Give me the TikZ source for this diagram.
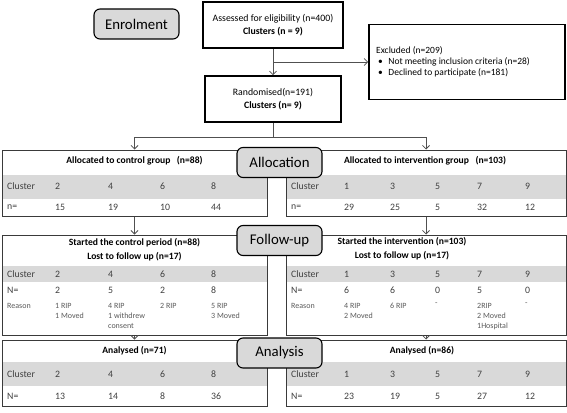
\documentclass[tikz,border=0pt]{standalone}
\usepackage{fontspec}
\setmainfont{Carlito}
\usetikzlibrary{arrows.meta,fit}
\definecolor{stagegrey}{HTML}{D9D9D9}
\definecolor{rowgrey}{HTML}{D9D9D9}
\definecolor{tblline}{HTML}{3A3A3A}
\definecolor{connc}{HTML}{505050}
\definecolor{celltext}{HTML}{404040}
\definecolor{rsntext}{HTML}{595959}
\tikzset{
  bigbox/.style={draw=black, line width=1.6pt, fill=white, inner sep=0pt, align=center, font=\fontsize{9.8}{13}\selectfont},
  stage/.style={draw=black, line width=1.1pt, fill=stagegrey, rounded corners=6pt, inner sep=0pt,
    minimum width=85pt, minimum height=30pt, font=\fontsize{14.8}{16}\selectfont},
  tbl/.style={draw=tblline, line width=1pt, inner sep=0pt},
  conn/.style={draw=connc, line width=0.8pt, -{Straight Barb[length=3.5pt,width=7pt]}},
  cell/.style={anchor=west, inner sep=0pt, text=celltext, font=\fontsize{9.8}{12}\selectfont},
  hdr/.style={inner sep=0pt, align=center, font=\bfseries\fontsize{9.6}{14}\selectfont},
  rsn/.style={anchor=north west, inner sep=0pt, align=left, text=rsntext, font=\fontsize{8}{10}\selectfont},
  exc/.style={anchor=north west, inner sep=0pt, align=left, font=\fontsize{9.5}{11}\selectfont},
}
\begin{document}
\begin{tikzpicture}[x=1pt,y=-1pt]
\useasboundingbox (0,0) rectangle (567,412);

% ---- enrolment part ----
\node[bigbox, minimum width=140pt, minimum height=46pt] (assess) at (273,25)
  {Assessed for eligibility (n=400)\\\textbf{Clusters (n = 9)}};
\node[bigbox, minimum width=136pt, minimum height=46pt] (rand) at (273,99)
  {Randomised(n=191)\\\textbf{Clusters (n= 9)}};
\node[bigbox, minimum width=196pt, minimum height=75pt] (excl) at (467,62) {};
\node[exc] (excltxt) at (376,46.5)
  {Excluded (n=209)\\
   \hspace*{2pt}•\hspace{5.5pt}Not meeting inclusion criteria (n=28)\\
   \hspace*{2pt}•\hspace{5.5pt}Declined to participate (n=181)};

% ---- grey rows ----
\fill[rowgrey] (2,175) rectangle (267,199);
\fill[rowgrey] (286,175) rectangle (566,199);
\fill[rowgrey] (2,266) rectangle (267,282);
\fill[rowgrey] (286,266) rectangle (566,282);
\fill[rowgrey] (2,362) rectangle (267,386);
\fill[rowgrey] (286,362) rectangle (566,386);

% ---- table outlines ----
\node[tbl, fit={(2,150) (267,216)}] (ctrlA) {};
\node[tbl, fit={(286,150) (566,216)}] (intvA) {};
\node[tbl, fit={(2,235) (267,335)}] (ctrlF) {};
\node[tbl, fit={(286,235) (566,335)}] (intvF) {};
\node[tbl, fit={(2,340) (267,406)}] (ctrlN) {};
\node[tbl, fit={(286,340) (566,406)}] (intvN) {};

% ---- connectors ----
\draw[conn] (assess.south) -- (rand.north);
\draw[conn] (assess.south |- excl.west) -- (excl.west);
\coordinate (split) at ([yshift=-15pt]rand.south);
\draw[draw=connc, line width=0.8pt] (rand.south) -- (split);
\draw[conn] (split) -| (ctrlA.north);
\draw[conn] (split) -| (intvA.north);
\draw[conn] (ctrlA.south) -- (ctrlF.north);
\draw[conn] (intvA.south) -- (intvF.north);
\draw[conn] (ctrlF.south) -- (ctrlN.north);
\draw[conn] (intvF.south) -- (intvN.north);

% ---- allocation tables ----
\node[hdr] (hA1) at (134.5,160.5) {Allocated to control group\ \ \ (n=88)};
\node[hdr] (hA2) at (425,160.5) {Allocated to intervention group\ \ \ (n=103)};
\foreach \x/\t [count=\i] in {7/Cluster,55/2,108/4,160/6,211/8}
  \node[cell] (a1c\i) at (\x,186) {\t};
\foreach \x/\t [count=\i] in {7/n=,55/15,108/19,160/10,211/44}
  \node[cell] (a1n\i) at (\x,207.5) {\t};
\foreach \x/\t [count=\i] in {291/Cluster,344/1,390/3,435/5,477/7,525/9}
  \node[cell] (a2c\i) at (\x,186) {\t};
\foreach \x/\t [count=\i] in {291/n=,344/29,390/25,435/5,477/32,525/12}
  \node[cell] (a2n\i) at (\x,207.5) {\t};

% ---- follow-up tables ----
\node[hdr] (hF1) at (134.5,250) {Started the control period (n=88)\\Lost to follow up (n=17)};
\node[hdr] (hF2) at (402,249) {Started the intervention (n=103)\\Lost to follow up (n=17)};
\foreach \x/\t [count=\i] in {7/Cluster,55/2,108/4,160/6,211/8}
  \node[cell] (f1c\i) at (\x,274) {\t};
\foreach \x/\t [count=\i] in {7/N=,55/2,108/5,160/2,211/8}
  \node[cell] (f1n\i) at (\x,290.5) {\t};
\foreach \x/\t [count=\i] in {7/Reason,55/{1 RIP\\1 Moved},108/{4 RIP\\1 withdrew\\consent},160/2 RIP,211/{5 RIP\\3 Moved}}
  \node[rsn] (f1r\i) at (\x,303) {\t};
\foreach \x/\t [count=\i] in {291/Cluster,344/1,390/3,435/5,477/7,525/9}
  \node[cell] (f2c\i) at (\x,274) {\t};
\foreach \x/\t [count=\i] in {291/N=,344/6,390/6,435/0,477/5,525/0}
  \node[cell] (f2n\i) at (\x,290.5) {\t};
\foreach \x/\t [count=\i] in {291/Reason,344/{4 RIP\\2 Moved},390/6 RIP,435/-,477/{2RIP\\2 Moved\\1Hospital},525/-}
  \node[rsn] (f2r\i) at (\x,303) {\t};

% ---- analysed tables ----
\node[hdr] (hN1) at (134.5,350.5) {Analysed (n=71)};
\node[hdr] (hN2) at (422,350.5) {Analysed (n=86)};
\foreach \x/\t [count=\i] in {7/Cluster,55/2,108/4,160/6,211/8}
  \node[cell] (n1c\i) at (\x,374) {\t};
\foreach \x/\t [count=\i] in {7/N=,55/13,108/14,160/8,211/36}
  \node[cell] (n1n\i) at (\x,396) {\t};
\foreach \x/\t [count=\i] in {291/Cluster,344/1,390/3,435/5,477/7,525/9}
  \node[cell] (n2c\i) at (\x,374) {\t};
\foreach \x/\t [count=\i] in {291/N=,344/23,390/19,435/5,477/27,525/12}
  \node[cell] (n2n\i) at (\x,396) {\t};

% ---- stage labels ----
\node[stage] (enrol) at (136.5,24) {Enrolment};
\node[stage] (alloc) at (279.5,162.5) {Allocation};
\node[stage] (follow) at (279.5,240.5) {Follow-up};
\node[stage] (analysis) at (279.5,353) {Analysis};
\end{tikzpicture}
\end{document}
